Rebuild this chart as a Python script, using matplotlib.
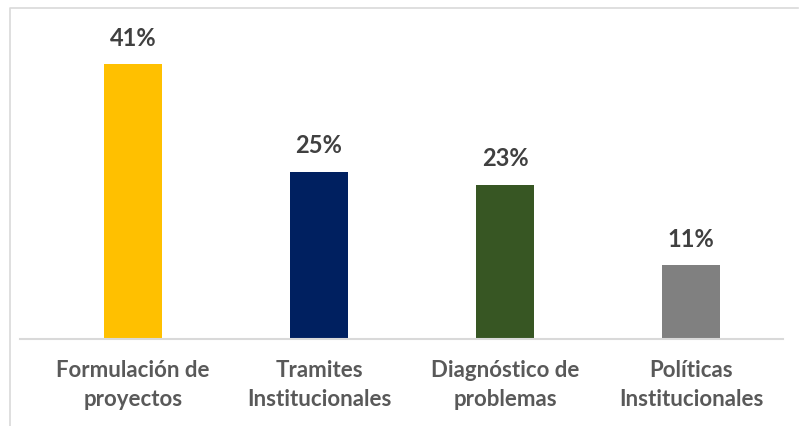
import matplotlib
matplotlib.use("Agg")
import matplotlib.pyplot as plt
from matplotlib.lines import Line2D

categories = ["Formulación de\nproyectos", "Tramites\nInstitucionales",
              "Diagnóstico de\nproblemas", "Políticas\nInstitucionales"]
values = [41, 25, 23, 11]
labels = ["41%", "25%", "23%", "11%"]
colors = ["#FFC000", "#002060", "#375623", "#808080"]

W, H = 799, 426
fig = plt.figure(figsize=(W / 100, H / 100), dpi=100)
plt.rcParams['font.family'] = ['Lato', 'DejaVu Sans']

ax = fig.add_axes([40 / W, (H - 339) / H, 744 / W, (339 - 37.5) / H])
x = list(range(len(categories)))
bars = ax.bar(x, values, width=0.312, color=colors, zorder=2)
ax.set_xlim(-0.5, 3.5)
ax.set_ylim(0, 45)
for s in ax.spines.values():
    s.set_visible(False)
ax.set_yticks([])
ax.set_xticks(x)
ax.set_xticklabels(categories, fontsize=16, fontweight='bold', color='#595959',
                   linespacing=1.5)
ax.tick_params(axis='x', length=0, pad=15)

for xi, v, lab in zip(x, values, labels):
    ax.annotate(lab, (xi, v), xytext=(0, 10.5), textcoords='offset points',
                ha='center', va='bottom', fontsize=17, fontweight='bold',
                color='#404040')

# baseline
fig.add_artist(Line2D([20 / W, 783 / W], [(H - 339) / H] * 2, color='#D9D9D9',
                      lw=1.5, transform=fig.transFigure))
# chart border
fig.add_artist(Line2D([10 / W, 10 / W, 798 / W], [0, (H - 8) / H, (H - 8) / H],
                      color='#D9D9D9', lw=1.2, transform=fig.transFigure))

fig.savefig("out.png", dpi=100)
